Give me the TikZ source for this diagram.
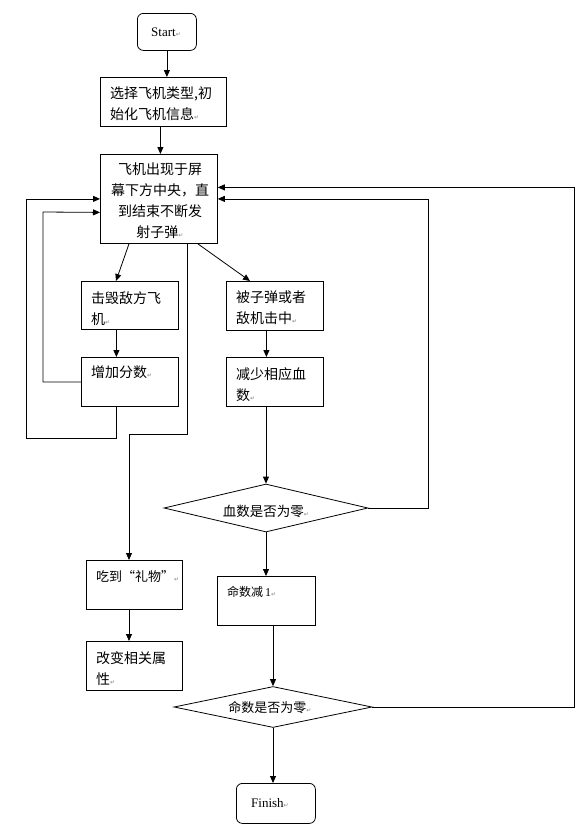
\documentclass[tikz,border=0pt]{standalone}
\usepackage{fontspec}
\setmainfont{Liberation Serif}
\newfontfamily\cjk{Noto Sans CJK SC}
\newfontfamily\retfont{DejaVu Sans}
\usetikzlibrary{arrows.meta,shapes.geometric,calc}
\newcommand{\retmark}{{\retfont\fontsize{6}{6}\selectfont\textcolor{gray}{↵}}}
\begin{document}
\begin{tikzpicture}[x=1pt,y=-1pt,
  box/.style={draw,line width=0.8pt,inner sep=0,anchor=north west},
  term/.style={box,rounded corners=6pt},
  dia/.style={draw,line width=0.8pt,diamond,inner sep=0},
  txt/.style={font=\cjk\fontsize{14}{21}\selectfont,inner sep=0,align=left,anchor=north west},
  lat/.style={font=\fontsize{13}{16}\selectfont,inner sep=0},
  arr/.style={line width=0.8pt,-{Triangle[length=7pt,width=6pt]}},
  ln/.style={line width=0.8pt}]
\useasboundingbox (0,0) rectangle (586,831);
% boxes
\node[term,minimum width=59pt,minimum height=37pt] (start) at (137,13) {};
\node[lat] (tstart) at (166,32) {Start\retmark};
\node[box,minimum width=126pt,minimum height=49pt] (b1) at (100,77) {};
\node[txt] (t1) at (110,87) {选择飞机类型,初\\始化飞机信息\retmark};
\node[box,minimum width=117pt,minimum height=89pt] (b2) at (100,154) {};
\node[txt,align=center,anchor=north] (t2) at (160,163) {飞机出现于屏\\幕下方中央，直\\到结束不断发\\射子弹\retmark};
\node[box,minimum width=97pt,minimum height=48pt] (b3) at (81,281) {};
\node[txt] (t3) at (91,291) {击毁敌方飞\\机\retmark};
\node[box,minimum width=97pt,minimum height=49pt] (b4) at (81,357) {};
\node[txt] (t4) at (91,366) {增加分数\retmark};
\node[box,minimum width=97pt,minimum height=49pt] (b5) at (226,281) {};
\node[txt] (t5) at (236,291) {被子弹或者\\敌机击中\retmark};
\node[box,minimum width=97pt,minimum height=49pt] (b6) at (226,357) {};
\node[txt] (t6) at (236,367) {减少相应血\\数\retmark};
\node[dia,minimum width=204pt,minimum height=48pt] (d1) at (266,508) {};
\node[txt,anchor=center,font=\cjk\fontsize{13.5}{20}\selectfont] (td1) at (266,511) {血数是否为零\retmark};
\node[box,minimum width=98pt,minimum height=49pt] (b7) at (217,576) {};
\node[txt,font=\cjk\fontsize{12}{20}\selectfont] (t7) at (227,586) {命数减\,{\rmfamily 1}\retmark};
\node[dia,minimum width=198pt,minimum height=41pt] (d2) at (273,707) {};
\node[txt,anchor=center,font=\cjk\fontsize{13}{20}\selectfont] (td2) at (270,708) {命数是否为零\retmark};
\node[term,minimum width=79pt,minimum height=40pt] (finish) at (236,783) {};
\node[lat] (tfin) at (270,803) {Finish\retmark};
\node[box,minimum width=96pt,minimum height=49pt] (b8) at (86,560) {};
\node[txt,font=\cjk\fontsize{13}{20}\selectfont] (t8) at (96,570) {吃到“礼物”\retmark};
\node[box,minimum width=96pt,minimum height=49pt] (b9) at (86,641) {};
\node[txt] (t9) at (96,651) {改变相关属\\性\retmark};
% helper coordinates
\coordinate (l1) at (43,212);
\coordinate (l2) at (26,438);
\coordinate (g1) at (129,434);
\coordinate (r1) at (428,0);
\coordinate (r2) at (574,0);
\coordinate (b2e2) at ([yshift=11.5pt]b2.east);
% connectors
\draw[arr] (start.south) -- (start.south |- b1.north);
\draw[arr] ([xshift=-3pt]b1.south) -- ([xshift=-3pt]b1.south |- b2.north);
\draw[arr] ([xshift=29pt]b2.south west) -- ([xshift=35pt]b3.north west);
\draw[arr] ([xshift=-20pt]b2.south east) -- ([xshift=24pt]b5.north west);
\draw[arr] ([xshift=-30pt]b2.south east) |- (g1) -- (b8.north -| g1);
\draw[arr] ([xshift=-13.5pt]b3.south) -- ([xshift=-13.5pt]b4.north);
\draw[arr] (b4.west) -| (l1) -- ([yshift=-13.5pt]b2.west);
\draw[arr] ([xshift=-13.5pt]b4.south) |- (l2) |- (b2.west);
\draw[arr] ([xshift=-8.5pt]b5.south) -- ([xshift=-8.5pt]b5.south |- b6.north);
\draw[arr] (b6.south -| d1.north) -- (d1.north);
\draw[arr] (d1.east) -| (r1 |- b2.east) -- (b2.east);
\draw[arr] (d1.south) -- (d1.south |- b7.north);
\draw[arr] (b7.south -| d2.north) -- (d2.north);
\draw[arr] (d2.east) -| (r2 |- b2e2) -- (b2e2);
\draw[arr] (d2.south) -- (d2.south |- finish.north);
\draw[arr] (b8.south -| g1) -- (b9.north -| g1);
\end{tikzpicture}
\end{document}
